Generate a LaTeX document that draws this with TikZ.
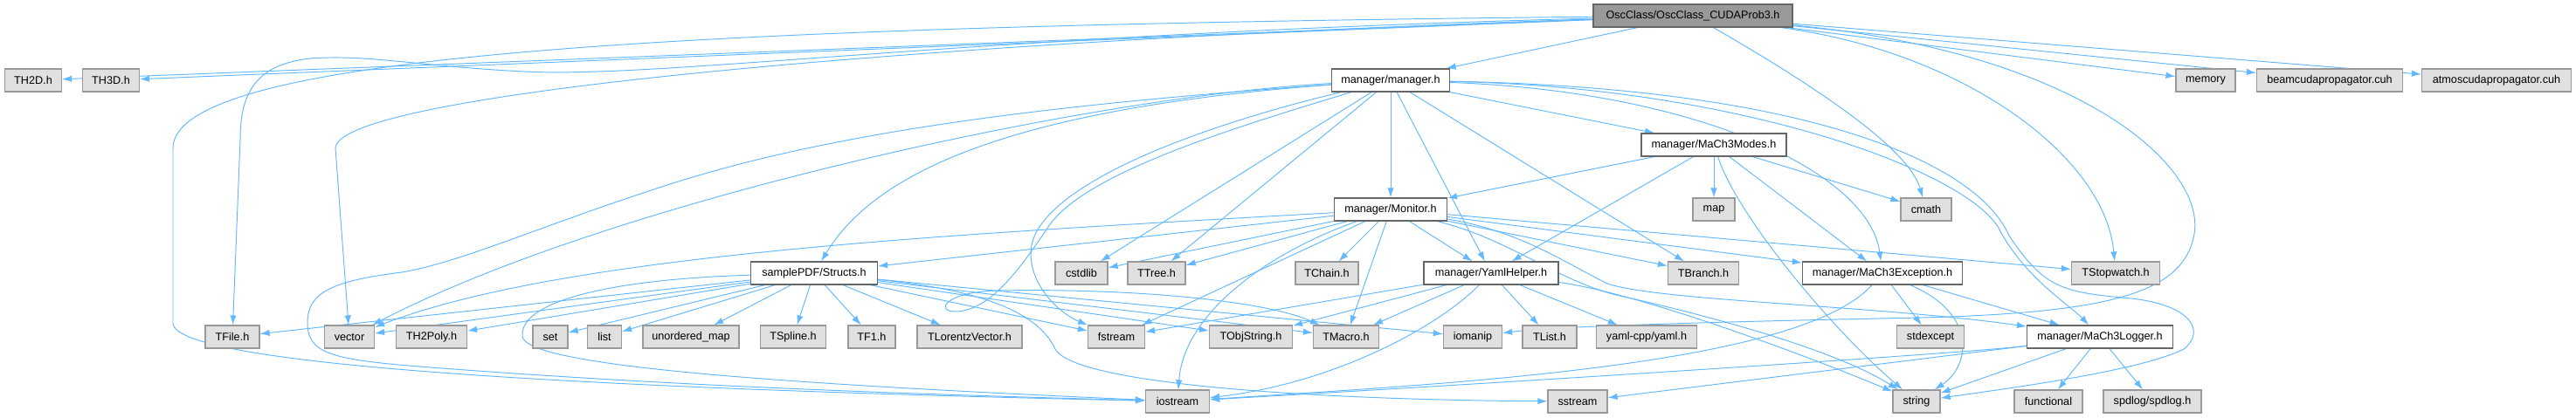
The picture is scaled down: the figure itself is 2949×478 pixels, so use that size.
\documentclass[tikz,border=0pt]{standalone}
\usepackage{fontspec}
\setmainfont{Liberation Sans}
\usetikzlibrary{arrows.meta,backgrounds}
\definecolor{edgeblue}{HTML}{63B8FF}
\definecolor{sysfill}{HTML}{E0E0E0}
\definecolor{sysline}{HTML}{999999}
\definecolor{hdrfill}{HTML}{999999}
\definecolor{hdrline}{HTML}{666666}

\begin{document}
\begin{tikzpicture}[
  x=0.02cm, y=-0.02cm,
  font=\fontsize{7.2}{8.6}\selectfont,
  hdr/.style={draw=hdrline, fill=hdrfill, minimum height=0.52cm,
    inner xsep=2pt, inner ysep=0pt, line width=0.7pt},
  incl/.style={draw=hdrline, fill=white, minimum height=0.52cm,
    inner xsep=2pt, inner ysep=0pt, line width=0.7pt},
  sysh/.style={draw=sysline, fill=sysfill, minimum height=0.52cm,
    inner xsep=2pt, inner ysep=0pt, line width=0.7pt},
  arr/.style={-{Latex[length=2.2mm, width=1.5mm]}, draw=edgeblue, line width=0.55pt}
]
  \useasboundingbox (0,0) rectangle (2949,478);

  % row 1
  \node[hdr, minimum width=4.56cm] (osc) at (1938,18) {OscClass/OscClass\_CUDAProb3.h};
  % row 2
  \node[sysh, minimum width=1.30cm] (th2d) at (38,92) {TH2D.h};
  \node[sysh, minimum width=1.30cm] (th3d) at (127,92) {TH3D.h};
  \node[incl, minimum width=2.70cm] (manager) at (1592,92) {manager/manager.h};
  \node[sysh, minimum width=1.36cm] (memory) at (2525,92) {memory};
  \node[sysh, minimum width=3.34cm] (beamcuda) at (2667,92) {beamcudapropagator.cuh};
  \node[sysh, minimum width=3.42cm] (atmoscuda) at (2858,92) {atmoscudapropagator.cuh};
  % row 3
  \node[incl, minimum width=3.32cm] (modes) at (1962,166) {manager/MaCh3Modes.h};
  % row 4
  \node[incl, minimum width=2.58cm] (monitor) at (1592,240) {manager/Monitor.h};
  \node[sysh, minimum width=0.96cm] (map) at (1962,240) {map};
  \node[sysh, minimum width=1.16cm] (cmath) at (2205,240) {cmath};
  % row 5
  \node[incl, minimum width=2.90cm] (structs) at (932,313) {samplePDF/Structs.h};
  \node[sysh, minimum width=1.20cm] (cstdlib) at (1238,313) {cstdlib};
  \node[sysh, minimum width=1.32cm] (ttree) at (1324,313) {TTree.h};
  \node[sysh, minimum width=1.44cm] (tchain) at (1519,313) {TChain.h};
  \node[incl, minimum width=3.08cm] (yaml) at (1707,313) {manager/YamlHelper.h};
  \node[sysh, minimum width=1.62cm] (tbranch) at (1950,313) {TBranch.h};
  \node[incl, minimum width=3.66cm] (exception) at (2155,313) {manager/MaCh3Exception.h};
  \node[sysh, minimum width=2.02cm] (tstopwatch) at (2422,313) {TStopwatch.h};
  % row 6
  \node[sysh, minimum width=1.24cm] (tfile) at (266,386) {TFile.h};
  \node[sysh, minimum width=1.14cm] (vector) at (400,386) {vector};
  \node[sysh, minimum width=1.62cm] (th2poly) at (494,386) {TH2Poly.h};
  \node[sysh, minimum width=0.80cm] (set) at (630,386) {set};
  \node[sysh, minimum width=0.78cm] (list) at (692,386) {list};
  \node[sysh, minimum width=2.20cm] (umap) at (791,386) {unordered\_map};
  \node[sysh, minimum width=1.50cm] (tspline) at (908,386) {TSpline.h};
  \node[sysh, minimum width=1.08cm] (tf1) at (998,386) {TF1.h};
  \node[sysh, minimum width=2.40cm] (tlorentz) at (1110,386) {TLorentzVector.h};
  \node[sysh, minimum width=1.30cm] (fstream) at (1278,386) {fstream};
  \node[sysh, minimum width=1.90cm] (tobjstring) at (1432,386) {TObjString.h};
  \node[sysh, minimum width=1.50cm] (tmacro) at (1541,386) {TMacro.h};
  \node[sysh, minimum width=1.34cm] (iomanip) at (1686,386) {iomanip};
  \node[sysh, minimum width=1.24cm] (tlist) at (1774,386) {TList.h};
  \node[sysh, minimum width=2.30cm] (yamlcpp) at (1885,386) {yaml-cpp/yaml.h};
  \node[sysh, minimum width=1.54cm] (stdexcept) at (2210,386) {stdexcept};
  \node[incl, minimum width=3.34cm] (logger) at (2404,386) {manager/MaCh3Logger.h};
  % row 7
  \node[sysh, minimum width=1.46cm] (iostream) at (1348,460) {iostream};
  \node[sysh, minimum width=1.36cm] (sstream) at (1806,460) {sstream};
  \node[sysh, minimum width=1.08cm] (string) at (2194,460) {string};
  \node[sysh, minimum width=1.56cm] (functional) at (2345,460) {functional};
  \node[sysh, minimum width=2.24cm] (spdlog) at (2464,460) {spdlog/spdlog.h};

  \begin{scope}[on background layer]
  % OscClass_CUDAProb3.h
  \draw[arr] (osc) -- (th2d);
  \draw[arr] (osc) -- (th3d);
  \draw[arr] (osc) .. controls (1100,40) and (760,90) .. (600,82)
    .. controls (480,76) and (420,62) .. (355,67)
    .. controls (290,74) and (275,110) .. (275,160) -- (tfile);
  \draw[arr] (osc) .. controls (1000,50) and (384,110) .. (384,170) -- (vector);
  \draw[arr] (osc) .. controls (800,30) and (198,60) .. (198,170) -- (198,370)
    .. controls (198,425) and (800,448) .. (iostream);
  \draw[arr] (osc) -- (manager);
  \draw[arr] (osc) .. controls (2080,100) and (2185,170) .. (cmath);
  \draw[arr] (osc) .. controls (2250,60) and (2410,180) .. (tstopwatch);
  \draw[arr] (osc) -- (memory);
  \draw[arr] (osc) -- (beamcuda);
  \draw[arr] (osc) -- (atmoscuda);
  \draw[arr] (osc) .. controls (2380,60) and (2525,190) .. (2512,268)
    .. controls (2500,335) and (2420,358) .. (2200,364)
    .. controls (1950,369) and (1780,374) .. (iomanip);

  % manager.h
  \draw[arr] (manager) .. controls (1200,120) and (960,150) .. (770,210)
    .. controls (620,258) and (530,300) .. (460,312)
    .. controls (380,322) and (352,335) .. (352,370)
    .. controls (352,405) and (380,412) .. (480,420)
    .. controls (800,445) and (1100,453) .. (iostream);
  \draw[arr] (manager) .. controls (1250,110) and (700,230) .. (vector);
  \draw[arr] (manager) .. controls (1150,125) and (1000,200) .. (structs);
  \draw[arr] (manager) -- (cstdlib);
  \draw[arr] (manager) -- (ttree);
  \draw[arr] (manager) -- (monitor);
  \draw[arr] (manager) -- (yaml);
  \draw[arr] (manager) -- (tbranch);
  \draw[arr] (manager) -- (modes);
  \draw[arr] (manager) .. controls (1350,150) and (1180,220) .. (1180,290)
    .. controls (1180,330) and (1215,360) .. (fstream);
  \draw[arr] (manager) .. controls (1400,150) and (1240,200) .. (1200,260)
    .. controls (1160,320) and (1130,355) .. (1095,357)
    .. controls (1070,358) and (1080,335) .. (1140,333)
    .. controls (1300,330) and (1450,345) .. (tmacro);
  \draw[arr] (manager) .. controls (1950,105) and (2140,200) .. (exception);
  \draw[arr] (manager) .. controls (2000,100) and (2260,200) .. (2290,265)
    .. controls (2320,320) and (2370,350) .. (logger);
  \draw[arr] (manager) .. controls (2050,100) and (2260,180) .. (2300,270)
    .. controls (2340,330) and (2360,335) .. (2440,342)
    .. controls (2510,350) and (2525,380) .. (2500,400)
    .. controls (2450,425) and (2300,445) .. (string);

  % MaCh3Modes.h
  \draw[arr] (modes) -- (monitor);
  \draw[arr] (modes) -- (yaml);
  \draw[arr] (modes) -- (map);
  \draw[arr] (modes) -- (cmath);
  \draw[arr] (modes) -- (exception);
  \draw[arr] (modes) .. controls (1990,250) and (2100,380) .. (string);

  % Monitor.h
  \draw[arr] (monitor) -- (structs);
  \draw[arr] (monitor) .. controls (1100,268) and (650,290) .. (vector);
  \draw[arr] (monitor) -- (cstdlib);
  \draw[arr] (monitor) -- (ttree);
  \draw[arr] (monitor) -- (tchain);
  \draw[arr] (monitor) -- (yaml);
  \draw[arr] (monitor) -- (tbranch);
  \draw[arr] (monitor) -- (exception);
  \draw[arr] (monitor) -- (tstopwatch);
  \draw[arr] (monitor) -- (fstream);
  \draw[arr] (monitor) -- (tmacro);
  \draw[arr] (monitor) .. controls (1450,290) and (1355,360) .. (iostream);
  \draw[arr] (monitor) .. controls (1740,265) and (1790,300) .. (1840,325)
    .. controls (1900,345) and (2150,350) .. (logger);
  \draw[arr] (monitor) .. controls (1730,275) and (1780,320) .. (1850,338)
    .. controls (1950,360) and (2100,400) .. (string);

  % YamlHelper.h
  \draw[arr] (yaml) -- (fstream);
  \draw[arr] (yaml) -- (tobjstring);
  \draw[arr] (yaml) -- (tmacro);
  \draw[arr] (yaml) -- (tlist);
  \draw[arr] (yaml) -- (yamlcpp);
  \draw[arr] (yaml) .. controls (1640,380) and (1520,440) .. (iostream);
  \draw[arr] (yaml) .. controls (1870,335) and (2050,400) .. (string);

  % MaCh3Exception.h
  \draw[arr] (exception) .. controls (2060,420) and (1650,440) .. (iostream);
  \draw[arr] (exception) -- (stdexcept);
  \draw[arr] (exception) -- (logger);
  \draw[arr] (exception) .. controls (2265,360) and (2255,420) .. (string);

  % MaCh3Logger.h
  \draw[arr] (logger) .. controls (2250,405) and (1700,440) .. (iostream);
  \draw[arr] (logger) -- (sstream);
  \draw[arr] (logger) -- (string);
  \draw[arr] (logger) -- (functional);
  \draw[arr] (logger) -- (spdlog);

  % Structs.h
  \draw[arr] (structs) -- (tfile);
  \draw[arr] (structs) -- (vector);
  \draw[arr] (structs) -- (th2poly);
  \draw[arr] (structs) -- (set);
  \draw[arr] (structs) -- (list);
  \draw[arr] (structs) -- (umap);
  \draw[arr] (structs) -- (tspline);
  \draw[arr] (structs) -- (tf1);
  \draw[arr] (structs) -- (tlorentz);
  \draw[arr] (structs) -- (fstream);
  \draw[arr] (structs) -- (tobjstring);
  \draw[arr] (structs) -- (tmacro);
  \draw[arr] (structs) -- (iomanip);
  \draw[arr] (structs) .. controls (700,320) and (595,345) .. (598,385)
    .. controls (600,420) and (900,440) .. (iostream);
  \draw[arr] (structs) .. controls (1100,330) and (1185,350) .. (1208,400)
    .. controls (1230,440) and (1500,458) .. (sstream);
  \end{scope}
\end{tikzpicture}
\end{document}
